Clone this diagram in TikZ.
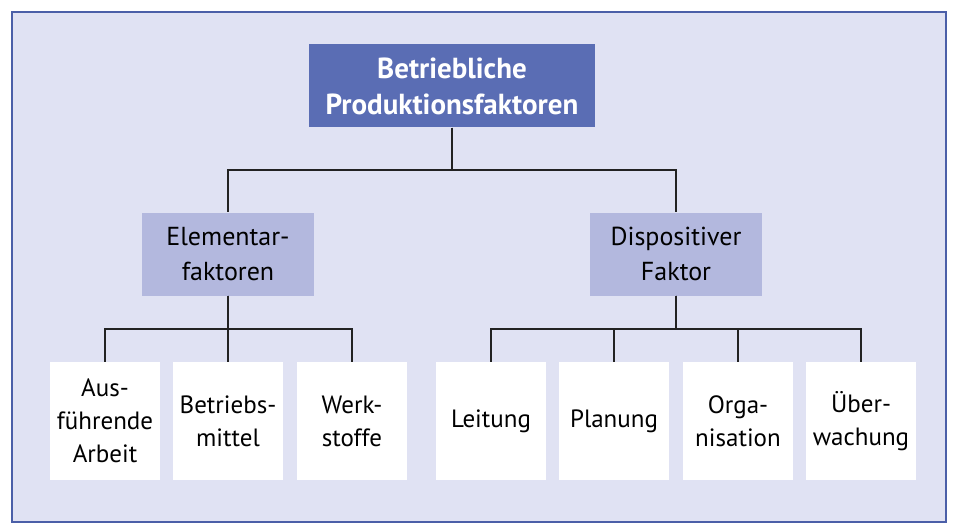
\documentclass[tikz,border=0pt]{standalone}
\usepackage{fontspec}
\setmainfont{PT Sans}
\usetikzlibrary{calc}

\definecolor{rahmen}{HTML}{4B5FA8}
\definecolor{grund}{HTML}{E0E2F3}
\definecolor{dunkelblau}{HTML}{5A6DB4}
\definecolor{hellblau}{HTML}{B3B8DE}
\definecolor{linie}{HTML}{222222}

\begin{document}
\begin{tikzpicture}[x=1pt,y=-1pt]
\tikzstyle{every node}=[inner sep=0pt,align=center,font=\fontsize{26}{35}\selectfont]
\tikzstyle{wurzel}=[fill=dunkelblau,text=white,font=\fontsize{29}{36}\selectfont\bfseries,
  minimum width=286pt,minimum height=83pt]
\tikzstyle{faktor}=[fill=hellblau,text=black,minimum width=172pt,minimum height=83pt]
\tikzstyle{blatt}=[fill=white,text=black,font=\fontsize{25}{33}\selectfont,
  minimum width=110pt,minimum height=118pt]
\tikzstyle{gabel}=[draw=linie,line width=2.5pt,
  to path={|- ($(\tikztostart)!.5!(\tikztotarget)$) -| (\tikztotarget)}]

\useasboundingbox (0,0) rectangle (956,532);
\draw[rahmen,line width=2.5pt,fill=grund] (12,12) rectangle (946,522);

\node[wurzel] (bpf) at (452,86) {Betriebliche\\Produktionsfaktoren};

\node[faktor] (elem) at (228,254) {Elementar-\\faktoren};
\node[faktor] (disp) at (676,254) {Dispositiver\\Faktor};

% Elementarfaktoren
\node[blatt] (arbeit) at (105,421) {Aus-\\führende\\Arbeit};
\node[blatt] (mittel) at (228,421) {Betriebs-\\mittel};
\node[blatt] (stoffe) at (352,421) {Werk-\\stoffe};

% dispositiver Faktor
\node[blatt] (leitung) at (491,421) {Leitung};
\node[blatt] (planung) at (614,421) {Planung};
\node[blatt] (orga) at (738,421) {Orga-\\nisation};
\node[blatt] (ueber) at (861,421) {Über-\\wachung};

\path (bpf.south) edge[gabel] (elem.north)
      (bpf.south) edge[gabel] (disp.north);
\foreach \k in {arbeit,mittel,stoffe}
  \path (elem.south) edge[gabel] (\k.north);
\foreach \k in {leitung,planung,orga,ueber}
  \path (disp.south) edge[gabel] (\k.north);
\end{tikzpicture}
\end{document}
